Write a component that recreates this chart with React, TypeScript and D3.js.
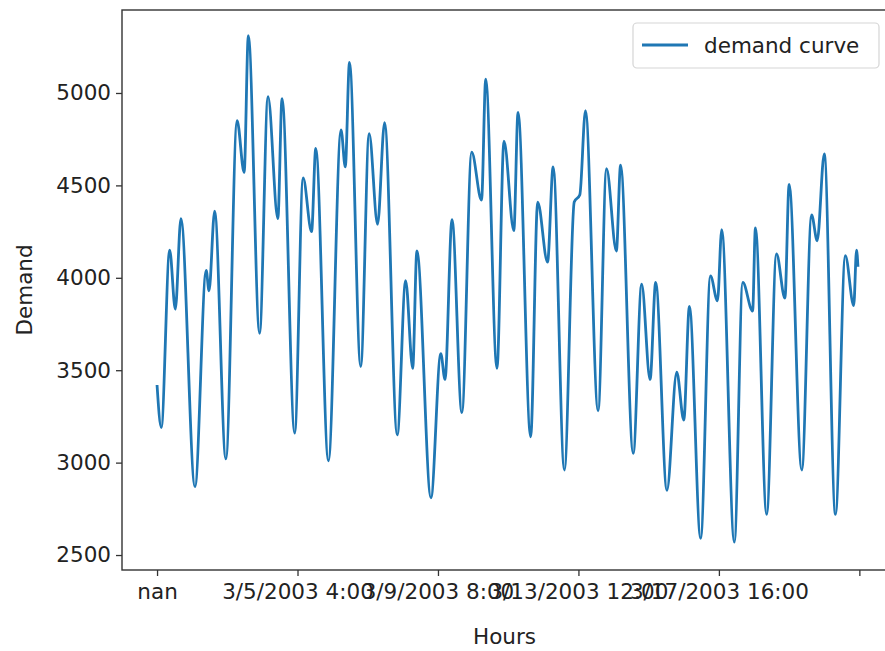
import React, { useEffect, useRef } from "react";
import * as d3 from "d3";

// hour index (0 = first row) and demand, read at the turning points of the curve
const hours = [
  0, 3, 9, 13, 17, 27, 35, 37, 41, 49, 57, 62, 65, 73, 79, 86, 89,
  98, 104, 110, 113, 122, 131, 134, 137, 145, 151, 157, 162, 171, 177, 182, 185,
  195, 202, 205, 210, 217, 224, 231, 234, 242, 247, 254, 257, 266, 271, 278, 282,
  290, 297, 301, 305, 314, 320, 327, 330, 339, 345, 351, 355, 363, 370, 375, 379,
  387, 394, 399, 402, 411, 417, 424, 426, 434, 441, 447, 450, 459, 466, 470, 475,
  483, 490, 496, 498, 499,
];
const demand = [
  3420, 3190, 4150, 3830, 4320, 2870, 4040, 3930, 4360, 3020, 4850, 4570, 5310, 3700, 4980, 4320, 4970,
  3160, 4540, 4250, 4700, 3010, 4800, 4600, 5165, 3520, 4780, 4290, 4840, 3150, 3985, 3510, 4145,
  2810, 3590, 3450, 4315, 3270, 4680, 4420, 5075, 3510, 4740, 4255, 4895, 3140, 4410, 4085, 4600,
  2960, 4410, 4450, 4905, 3280, 4590, 4145, 4610, 3050, 3965, 3450, 3975, 2850, 3490, 3230, 3845,
  2590, 4010, 3875, 4260, 2570, 3975, 3820, 4270, 2720, 4130, 3890, 4505, 2960, 4340, 4200, 4670,
  2720, 4120, 3850, 4150, 4060,
];

const xTicks = [0, 100, 200, 300, 400, 500];
const xTickLabels = ["nan", "3/5/2003 4:00", "3/9/2003 8:00", "3/13/2003 12:00", "3/17/2003 16:00", ""];
const yTicks = [2500, 3000, 3500, 4000, 4500, 5000];

export default function App() {
  const svgRef = useRef<SVGSVGElement>(null);

  useEffect(() => {
    const width = 885;
    const height = 651;
    const left = 122, right = 893, top = 10, bottom = 570;
    const font = "DejaVu Sans";
    const fs = 21.5;

    const svg = d3.select(svgRef.current);
    svg.selectAll("*").remove();
    svg.attr("width", width).attr("height", height);

    svg.append("rect").attr("width", width).attr("height", height).attr("fill", "#fff");

    const x = d3.scaleLinear().domain([-24.95, 523.95]).range([left, right]);
    const y = d3.scaleLinear().domain([2419, 5449]).range([bottom, top]);

    const pts = hours.map((h, i) => [h, demand[i]] as [number, number]);

    const line = d3.line<[number, number]>()
      .x(d => x(d[0]))
      .y(d => y(d[1]))
      .curve(d3.curveMonotoneX);

    svg.append("path")
      .datum(pts)
      .attr("d", line)
      .attr("fill", "none")
      .attr("stroke", "#1f77b4")
      .attr("stroke-width", 2.8)
      .attr("stroke-linejoin", "round");

    // spines
    svg.append("rect")
      .attr("x", left).attr("y", top)
      .attr("width", right - left).attr("height", bottom - top)
      .attr("fill", "none").attr("stroke", "#333").attr("stroke-width", 1.4);

    // y axis
    const yAxis = svg.append("g").attr("transform", `translate(${left},0)`)
      .call(d3.axisLeft(y).tickValues(yTicks).tickSize(6).tickPadding(5).tickFormat(d3.format("d")));
    yAxis.select(".domain").remove();
    yAxis.selectAll("line").attr("stroke", "#333").attr("stroke-width", 1.3);
    yAxis.selectAll("text").attr("font-family", font).attr("font-size", fs).attr("fill", "#222");

    // x axis
    const xAxis = svg.append("g").attr("transform", `translate(0,${bottom})`)
      .call(d3.axisBottom(x).tickValues(xTicks).tickSize(6).tickPadding(8)
        .tickFormat((d, i) => xTickLabels[i]));
    xAxis.select(".domain").remove();
    xAxis.selectAll("line").attr("stroke", "#333").attr("stroke-width", 1.3);
    xAxis.selectAll("text").attr("font-family", font).attr("font-size", fs).attr("fill", "#222");

    svg.append("text")
      .attr("x", (left + right) / 2 - 3).attr("y", 644)
      .attr("text-anchor", "middle")
      .attr("font-family", font).attr("font-size", fs).attr("fill", "#222")
      .text("Hours");

    svg.append("text")
      .attr("transform", `translate(32,${(top + bottom) / 2}) rotate(-90)`)
      .attr("text-anchor", "middle")
      .attr("font-family", font).attr("font-size", fs).attr("fill", "#222")
      .text("Demand");

    // legend
    const lg = svg.append("g");
    lg.append("rect")
      .attr("x", 633).attr("y", 23).attr("width", 246).attr("height", 45)
      .attr("rx", 4)
      .attr("fill", "#fff").attr("fill-opacity", 0.8)
      .attr("stroke", "#d5d5d5").attr("stroke-width", 1.2);
    lg.append("line")
      .attr("x1", 642).attr("x2", 688).attr("y1", 45).attr("y2", 45)
      .attr("stroke", "#1f77b4").attr("stroke-width", 2.8);
    lg.append("text")
      .attr("x", 704).attr("y", 53)
      .attr("font-family", font).attr("font-size", fs).attr("fill", "#222")
      .text("demand curve");
  }, []);

  return <svg ref={svgRef} style={{ position: "absolute", left: 0, top: 0 }}></svg>;
}
